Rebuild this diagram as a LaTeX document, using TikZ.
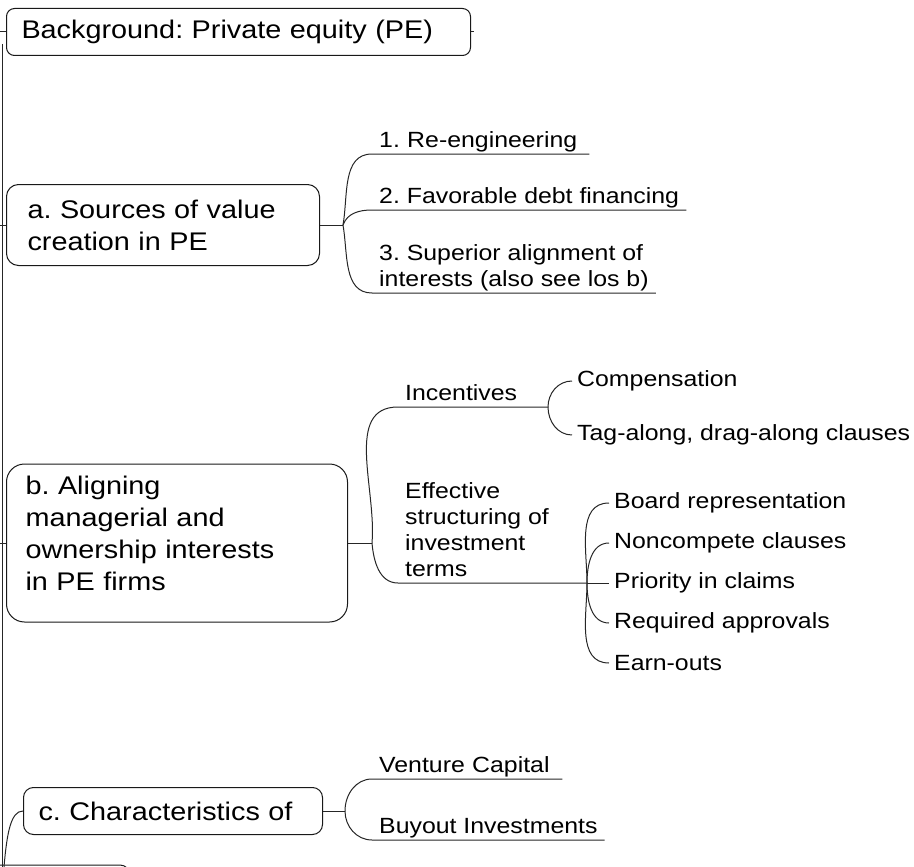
\documentclass[tikz,border=0pt]{standalone}
\usepackage{fontspec}
\setmainfont{Liberation Sans}[FakeStretch=1.13]
\usepackage{tikz}
\usetikzlibrary{positioning}
\frenchspacing
\newcommand{\topicfont}{\fontsize{25.5}{32}\selectfont}
\newcommand{\leaffont}{\fontsize{22}{26}\selectfont}
\tikzset{
    topic-box/.style = {draw=black!90, fill=white, line width=1pt, rectangle, rounded corners=10pt, font=\topicfont, align=left, anchor=west, inner xsep=15pt, inner ysep=0pt, minimum height=47pt},
    sub-topic/.style = {anchor=south west, font=\leaffont, align=left, inner xsep=7pt, inner ysep=0pt, text depth=6pt},
    leaf/.style = {anchor=west, font=\leaffont, inner xsep=5pt},
    branch/.style = {draw=black!85, line width=1pt},
}

\begin{document}
\begin{tikzpicture}[x=1pt, y=-1pt]
\useasboundingbox (0,0) rectangle (914,867);
\clip (0,0) rectangle (914,867);

% main topics
\node [topic-box, rounded corners=8pt, text width=434pt] (bg) at (6,32) {Background: Private equity (PE)};
\node [topic-box, rounded corners=12pt, inner xsep=21pt, text width=271pt, minimum height=81pt] (sources) at (6,225) {a. Sources of value\\creation in PE};
\node [topic-box, rounded corners=18pt, inner xsep=19pt, text width=303pt, minimum height=158pt] (aligning) at (6,543) {b. Aligning\\managerial and\\ownership interests\\in PE firms\\[-12pt]\mbox{}};
\node [topic-box, text width=269pt] (chars) at (23,811) {c. Characteristics of};
\draw [line width=1pt, draw=black!90, rounded corners=10pt] (-200,865) rectangle (130,960);

% trunk on the left
\coordinate (trunk-top) at (2,44);
\coordinate (trunk-end) at (2,867);
\coordinate (root-bg) at (0,32);
\coordinate (root-a) at (0,225);
\coordinate (root-b) at (0,543);
\coordinate (root-c) at (4,867);
\coordinate (bg-tail) at (474,32);
\draw [branch] (trunk-top) -- (trunk-end);
\draw [branch] (root-bg) -- (bg.west);
\draw [branch] (bg.east) -- (bg-tail);
\draw [branch] (root-a) -- (sources.west);
\draw [branch] (root-b) -- (aligning.west);
\draw [branch] (root-c) .. controls +(3,-35) and +(-12,0) .. (chars.west);

% a. sources of value
\coordinate (ja) at (343,225);
\node [sub-topic, text width=203pt] (reeng) at (372,154) {1. Re-engineering};
\node [sub-topic] (debt) at (372,210) {2. Favorable debt financing};
\node [sub-topic] (interests) at (372,293) {3. Superior alignment of\\interests (also see los b)};
\draw [branch] (sources.east) -- (ja);
\draw [branch] (ja) to[out=80, in=180] (reeng.south west) -- (reeng.south east);
\draw [branch] (ja) to[out=70, in=180] (debt.south west) -- (debt.south east);
\draw [branch] (ja) to[out=-80, in=180] (interests.south west) -- (interests.south east);

% b. aligning interests
\coordinate (jb) at (372,543);
\coordinate (jc) at (548,407);
\coordinate (je) at (587,583);
\node [sub-topic] (incent) at (398,407) {Incentives};
\node [sub-topic] (terms) at (398,583) {Effective\\structuring of\\investment\\terms};
\node [leaf] (comp) at (572,381) {Compensation};
\node [leaf] (tag) at (572,435) {Tag-along, drag-along clauses};
\node [leaf] (board) at (609,503) {Board representation};
\node [leaf] (noncomp) at (609,543) {Noncompete clauses};
\node [leaf] (priority) at (609,583) {Priority in claims};
\node [leaf] (approvals) at (609,623) {Required approvals};
\node [leaf] (earn) at (609,663) {Earn-outs};
\draw [branch] (aligning.east) -- (jb);
\draw [branch] (jb) to[out=85, in=180] (incent.south west) -- (jc);
\draw [branch] (jb) to[out=-85, in=180] (terms.south west) -- (je);
\draw [branch] (jc) to[out=90, in=180] (comp.west);
\draw [branch] (jc) to[out=-90, in=180] (tag.west);
\draw [branch] (je) to[out=90, in=180] (board.west);
\draw [branch] (je) to[out=90, in=180] (noncomp.west);
\draw [branch] (je) -- (priority.west);
\draw [branch] (je) to[out=-90, in=180] (approvals.west);
\draw [branch] (je) to[out=-90, in=180] (earn.west);

% c. characteristics
\coordinate (jd) at (345,811);
\node [sub-topic, text width=176pt] (venture) at (372,779) {Venture Capital};
\node [sub-topic] (buyout) at (372,840) {Buyout Investments};
\draw [branch] (chars.east) -- (jd);
\draw [branch] (jd) to[out=90, in=180] (venture.south west) -- (venture.south east);
\draw [branch] (jd) to[out=-90, in=180] (buyout.south west) -- (buyout.south east);
\end{tikzpicture}
\end{document}
